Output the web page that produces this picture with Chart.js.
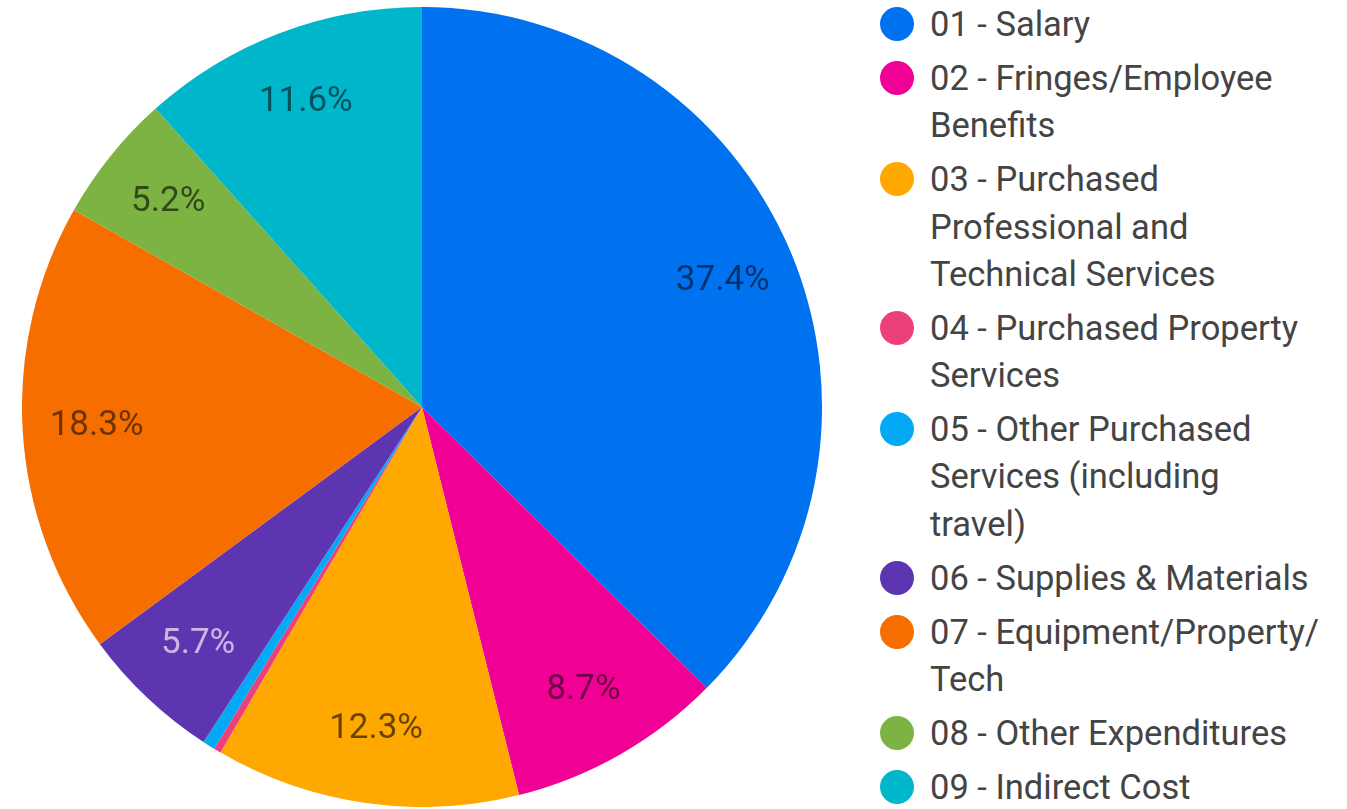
<!DOCTYPE html>
<html>
<head>
<meta charset="utf-8">
<script src="https://cdn.jsdelivr.net/npm/chart.js@4"></script>
<style>
    body { margin: 0; background: #fff; overflow: hidden; font-family: Roboto, sans-serif; }
    #wrap { position: absolute; left: 22px; top: 7px; width: 800px; height: 800px; }
    #legend { position: absolute; left: 880px; top: 1px; margin: 0; padding: 0; list-style: none; }
    #legend li { display: flex; align-items: flex-start; margin-bottom: 6.7px; }
    #legend .dot { width: 34px; height: 34px; border-radius: 50%; margin-top: 6px; flex: none; }
    #legend .txt { margin-left: 16px; font-size: 34.5px; line-height: 47.3px; color: #444; white-space: nowrap; }
</style>
</head>
<body>
<div id="wrap"><canvas id="pieChart"></canvas></div>
<ul id="legend"></ul>
<script>
// Budget categories (each entry = lines as shown in the legend)
const categories = [
    ['01 - Salary'],
    ['02 - Fringes/Employee', 'Benefits'],
    ['03 - Purchased', 'Professional and', 'Technical Services'],
    ['04 - Purchased Property', 'Services'],
    ['05 - Other Purchased', 'Services (including', 'travel)'],
    ['06 - Supplies & Materials'],
    ['07 - Equipment/Property/', 'Tech'],
    ['08 - Other Expenditures'],
    ['09 - Indirect Cost']
];

// Share of total, in percent
const shares = [37.4, 8.7, 12.3, 0.3, 0.5, 5.7, 18.3, 5.2, 11.6];

const colors = ['#0072f0', '#f10096', '#ffa800', '#ec407a', '#03a9f4', '#5e35b1', '#f66d00', '#7cb342', '#00b6cb'];
const labelColors = ['rgba(0,0,0,0.55)', 'rgba(0,0,0,0.55)', 'rgba(0,0,0,0.6)', 'rgba(0,0,0,0.55)', 'rgba(0,0,0,0.55)',
    'rgba(255,255,255,0.65)', 'rgba(0,0,0,0.55)', 'rgba(0,0,0,0.6)', 'rgba(0,0,0,0.55)'];

// --- draws the percentage inside each slice ---
const sliceLabels = {
    id: 'sliceLabels',
    afterDatasetsDraw(chart) {
        const ctx = chart.ctx;
        const meta = chart.getDatasetMeta(0);
        const data = chart.data.datasets[0].data;
        const total = data.reduce((a, b) => a + b, 0);
        ctx.save();
        ctx.font = '35px Roboto';
        ctx.textAlign = 'center';
        ctx.textBaseline = 'middle';
        meta.data.forEach((arc, i) => {
            const pct = data[i] / total * 100;
            if (pct < 3) return; // too thin for a label
            const p = arc.getProps(['x', 'y', 'startAngle', 'endAngle', 'outerRadius'], true);
            const mid = (p.startAngle + p.endAngle) / 2;
            const r = p.outerRadius * 0.815;
            ctx.fillStyle = labelColors[i];
            ctx.fillText(pct.toFixed(1) + '%', p.x + Math.cos(mid) * r, p.y + Math.sin(mid) * r);
        });
        ctx.restore();
    }
};

const chart = new Chart(document.getElementById('pieChart'), {
    type: 'pie',
    data: {
        labels: categories,
        datasets: [{
            data: shares,
            backgroundColor: colors,
            borderWidth: 0
        }]
    },
    options: {
        responsive: true,
        maintainAspectRatio: false,
        animation: false,
        layout: { padding: 0 },
        plugins: {
            legend: { display: false },
            tooltip: { enabled: false }
        }
    },
    plugins: [sliceLabels]
});

// --- HTML legend built from the same arrays ---
const legendEl = document.getElementById('legend');
categories.forEach((lines, i) => {
    const li = document.createElement('li');
    li.innerHTML = '<span class="dot" style="background:' + colors[i] + '"></span>' +
        '<span class="txt">' + lines.join('<br>').replace('&', '&amp;') + '</span>';
    legendEl.appendChild(li);
});
</script>
</body>
</html>
